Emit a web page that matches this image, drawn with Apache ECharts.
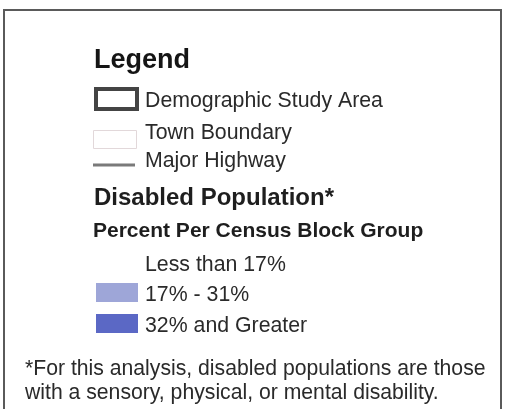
<!DOCTYPE html>
<html>
<head>
<meta charset="utf-8">
<script src="https://cdn.jsdelivr.net/npm/echarts@6/dist/echarts.min.js"></script>
<style>
html,body{margin:0;padding:0;background:#fff;}
#chart{width:506px;height:409px;}
</style>
</head>
<body>
<div id="chart"></div>
<script>
// ---- data ----
const legendTitle = 'Legend';
const boundaryLabels = ['Demographic Study Area', 'Town Boundary', 'Major Highway'];
const themeTitle = 'Disabled Population*';
const themeSubtitle = 'Percent Per Census Block Group';
const classLabels = ['Less than 17%', '17% - 31%', '32% and Greater'];
const footnoteLines = [
  '*For this analysis, disabled populations are those',
  'with a sensory, physical, or mental disability.'
];

// ---- styles / layout ----
const FONT = '"Liberation Sans", Arial, sans-serif';
const classFills = ['#ffffff', '#9ea6d8', '#5b68c5'];
const boundaryBaselines = [109, 141, 169];
const classBaselines = [273, 303, 334];
const footBaselines = [377, 401];

function txt(str, x, baseline, size, weight, color) {
  return {
    type: 'text',
    x: x,
    y: baseline - size * 0.35,
    style: {
      text: str,
      font: weight + ' ' + size + 'px ' + FONT,
      fill: color,
      align: 'left',
      verticalAlign: 'middle'
    },
    silent: true
  };
}

const elements = [];
// outer frame
elements.push({
  type: 'rect',
  shape: { x: 4, y: 10, width: 497, height: 420 },
  style: { fill: '#fff', stroke: '#5a5a5a', lineWidth: 2 },
  silent: true
});

elements.push(txt(legendTitle, 94, 69.5, 27, 'bold', '#151515'));

// boundary icons
elements.push({
  type: 'rect',
  shape: { x: 96, y: 89, width: 41, height: 20 },
  style: { fill: '#fff', stroke: '#444', lineWidth: 4 },
  silent: true
});
elements.push({
  type: 'rect',
  shape: { x: 93.5, y: 130.5, width: 43, height: 18 },
  style: { fill: '#fff', stroke: '#e2d8da', lineWidth: 1 },
  silent: true
});
elements.push({
  type: 'line',
  shape: { x1: 93, y1: 165, x2: 135, y2: 165 },
  style: { stroke: '#7a7a7a', lineWidth: 3 },
  silent: true
});
boundaryLabels.forEach(function (l, i) {
  elements.push(txt(l, 145, boundaryBaselines[i], 21.3, 'normal', '#2a2a2a'));
});

elements.push(txt(themeTitle, 94, 207, 24, 'bold', '#1e1e1e'));
elements.push(txt(themeSubtitle, 93, 239, 21, 'bold', '#1e1e1e'));

classLabels.forEach(function (l, i) {
  if (i > 0) {
    elements.push({
      type: 'rect',
      shape: { x: 96, y: classBaselines[i] - 20, width: 42, height: 19 },
      style: { fill: classFills[i] },
      silent: true
    });
  }
  elements.push(txt(l, 145, classBaselines[i], 21.3, 'normal', '#2a2a2a'));
});

footnoteLines.forEach(function (l, i) {
  elements.push(txt(l, 25, footBaselines[i], 21.2, 'normal', '#2a2a2a'));
});

const chart = echarts.init(document.getElementById('chart'), null, { renderer: 'canvas' });
chart.setOption({
  backgroundColor: '#fff',
  animation: false,
  graphic: { elements: elements }
});
</script>
</body>
</html>
